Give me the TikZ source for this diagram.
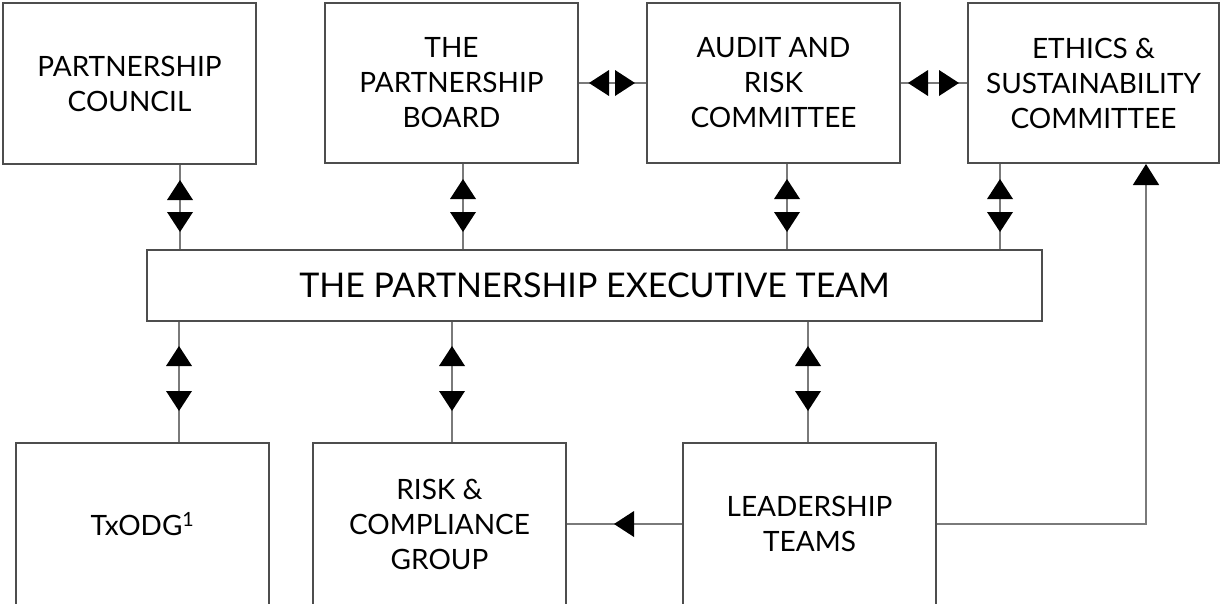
\documentclass[tikz,border=0pt]{standalone}
\usepackage{fontspec}
\setmainfont{Lato}
\usetikzlibrary{arrows.meta,decorations.markings}
\definecolor{boxc}{HTML}{4D4D4D}
\definecolor{connc}{HTML}{7A7A7A}
\tikzset{
  box/.style={draw=boxc, line width=2pt, fill=white, minimum width=253pt, minimum height=160pt,
    align=center, inner sep=0pt, font=\fontsize{28}{35}\selectfont},
  conn/.style={draw=connc, line width=1.6pt},
  fwd/.style={postaction={decorate,decoration={markings,
    mark=at position #1 with {\fill[black] (0,0)--(-20pt,13pt)--(-20pt,-13pt)--cycle;}}}},
  bwd/.style={postaction={decorate,decoration={markings,
    mark=at position #1 with {\fill[black] (0,0)--(20pt,13pt)--(20pt,-13pt)--cycle;}}}},
  endtip/.style={-{Triangle[length=21pt,width=26pt,color=black,fill=black]}}
}
\begin{document}
\begin{tikzpicture}[x=1pt,y=-1pt]
\useasboundingbox (0,0) rectangle (1220,603);
% top row
\node[box, minimum height=161pt] (council) at (129.5,83.5) {PARTNERSHIP\\COUNCIL};
\node[box] (board) at (451.5,83) {THE\\PARTNERSHIP\\BOARD};
\node[box] (audit) at (773.5,83) {AUDIT AND\\RISK\\COMMITTEE};
\node[box, minimum width=251pt] (ethics) at (1093.5,83) {\raisebox{-3pt}{\parbox{250pt}{\centering ETHICS \&\\SUSTAINABILITY\\COMMITTEE}}};
% executive
\node[box, minimum width=895pt, minimum height=71pt, font=\fontsize{34}{40}\selectfont] (exec) at (594.5,285.5) {THE PARTNERSHIP EXECUTIVE TEAM};
% bottom row
\node[box, minimum height=162pt] (txodg) at (142.5,524) {TxODG\textsuperscript{1}};
\node[box, minimum height=162pt] (risk) at (439.5,524) {RISK \&\\COMPLIANCE\\GROUP};
\node[box, minimum height=162pt] (lead) at (809.5,524) {LEADERSHIP\\TEAMS};
% upper vertical connectors
\draw[conn, bwd=15pt, fwd=-17pt] ([xshift=50.5pt]council.south) -- ([xshift=50.5pt]council.south |- exec.north);
\draw[conn, bwd=15pt, fwd=-17pt] ([xshift=11.5pt]board.south) -- ([xshift=11.5pt]board.south |- exec.north);
\draw[conn, bwd=15pt, fwd=-17pt] ([xshift=13.5pt]audit.south) -- ([xshift=13.5pt]audit.south |- exec.north);
\draw[conn, bwd=15pt, fwd=-17pt] ([xshift=-93.5pt]ethics.south) -- ([xshift=-93.5pt]ethics.south |- exec.north);
% horizontal connectors
\draw[conn, bwd=10pt, fwd=-11pt] (board.east) -- (audit.west);
\draw[conn, bwd=7pt, fwd=-8pt] (audit.east) -- (ethics.west);
% lower vertical connectors
\draw[conn, bwd=24pt, fwd=-31pt] ([xshift=36.5pt]txodg.north |- exec.south) -- ([xshift=36.5pt]txodg.north);
\draw[conn, bwd=24pt, fwd=-31pt] ([xshift=12.5pt]risk.north |- exec.south) -- ([xshift=12.5pt]risk.north);
\draw[conn, bwd=24pt, fwd=-31pt] ([xshift=-1.5pt]lead.north |- exec.south) -- ([xshift=-1.5pt]lead.north);
% leadership to risk
\draw[conn, fwd=68pt] (lead.west) -- (risk.east);
% leadership to ethics
\coordinate (turn) at ([xshift=52.5pt]ethics.south |- lead.east);
\draw[conn, endtip] (lead.east) -- (turn) -- ([xshift=52.5pt]ethics.south);
\end{tikzpicture}
\end{document}
